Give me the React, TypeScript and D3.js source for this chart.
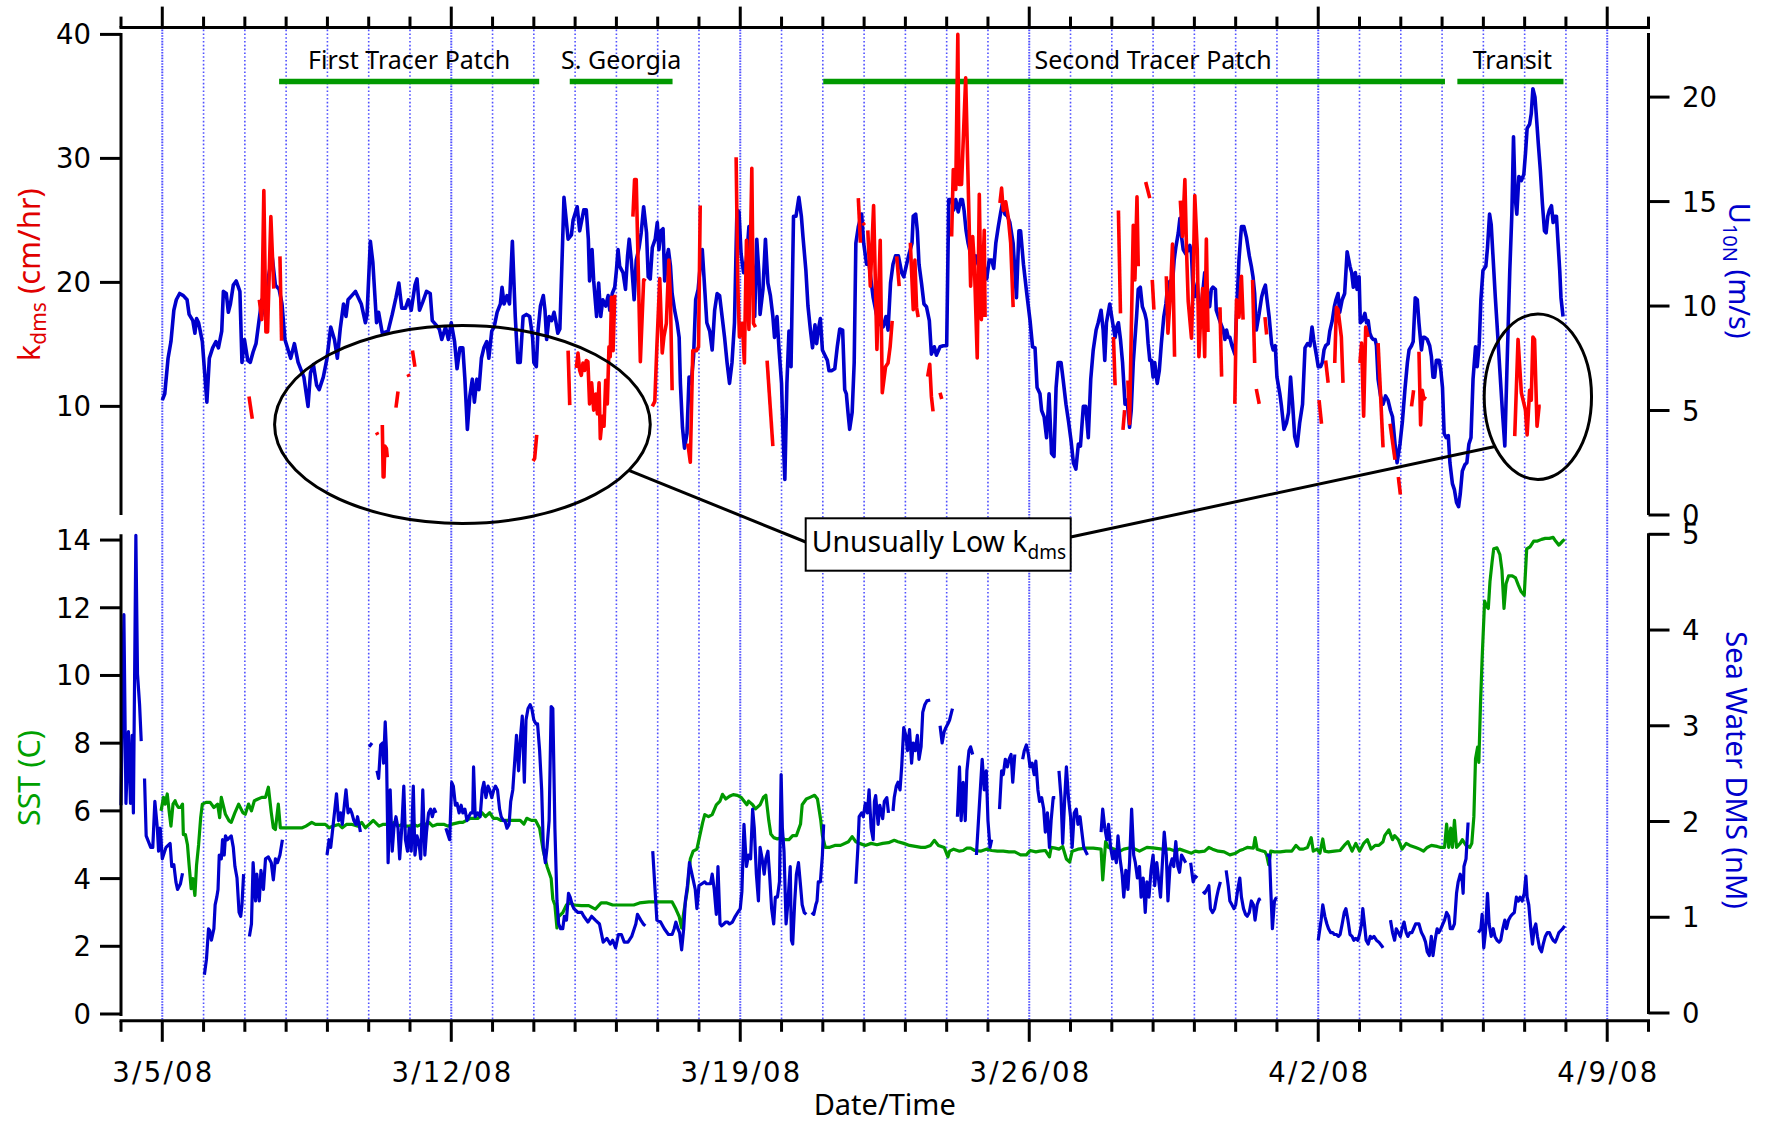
import React from 'react';
import * as d3 from 'd3';

// ---------- time base: decimal days after 2008-03-04 00:00 UTC ----------
const T0 = Date.UTC(2008, 2, 4);
const DAY_MS = 86400000;
const T_START = new Date(T0);
const T_END = new Date(Date.UTC(2008, 3, 10));

// ---------- cruise periods (start / end day) ----------
const periodNames = ['First Tracer Patch', 'S. Georgia', 'Second Tracer Patch', 'Transit'];
const periodStart = [3.83, 10.87, 17.01, 32.37];
const periodEnd = [10.13, 13.36, 32.07, 34.94];

// ---------- axis ticks ----------
const kTicks = [10, 20, 30, 40];
const windTicks = [0, 5, 10, 15, 20];
const sstTicks = [0, 2, 4, 6, 8, 10, 12, 14];
const dmsTicks = [0, 1, 2, 3, 4, 5];
const K_AXIS_MIN = 1.24;
const WIND_AXIS_MAX = 23.0;
const SST_AXIS_MAX = 14.17;
const DMS_AXIS_MAX = 5;

// ---------- U10N wind speed (m/s) ----------
const windSpeed: [number, number][] = [
  [1.00,5.5],[1.06,5.8],[1.14,7.5],[1.21,8.3],[1.28,9.8],[1.34,10.3],[1.42,10.6],[1.51,10.5],[1.60,10.3],[1.65,9.6],[1.74,9.3],[1.79,8.7],[1.83,9.4],[1.88,9.2],[1.97,8.3],[2.08,5.4],[2.14,7.5],[2.22,8.0],[2.30,8.3],[2.36,8.0],[2.44,8.8],[2.48,10.7],[2.55,10.6],[2.60,9.7],[2.65,10.1],[2.72,11.0],[2.79,11.2],[2.88,10.7],[2.93,7.3],[2.99,8.4],[3.07,7.4],[3.13,7.3],[3.20,7.8],[3.27,8.2],[3.33,9.1],[3.41,10.3],[3.50,9.5],[3.58,11.5],[3.66,12.4],[3.74,11.0],[3.83,10.8],[3.90,10.1],[3.97,8.4],[4.11,7.5],[4.20,8.2],[4.29,7.3],[4.43,6.6],[4.53,5.2],[4.59,6.8],[4.66,7.2],[4.74,6.2],[4.80,6.0],[4.90,6.6],[4.99,7.5],[5.08,9.0],[5.17,8.4],[5.24,7.5],[5.31,8.9],[5.39,10.1],[5.45,9.5],[5.50,10.3],[5.59,10.5],[5.68,10.7],[5.82,10.1],[5.92,9.2],[5.96,9.6],[6.04,13.1],[6.10,12.1],[6.19,9.2],[6.24,9.7],[6.33,8.7],[6.47,8.8],[6.57,9.6],[6.66,10.4],[6.73,11.1],[6.80,9.9],[6.89,9.9],[6.96,10.3],[7.03,9.8],[7.12,11.0],[7.17,11.3],[7.23,9.8],[7.31,10.2],[7.40,10.7],[7.49,10.6],[7.54,9.3],[7.63,9.1],[7.71,8.9],[7.77,8.4],[7.86,9.0],[7.93,8.4],[8.00,9.2],[8.08,8.3],[8.14,7.0],[8.21,8.0],[8.28,8.0],[8.33,6.5],[8.39,4.1],[8.45,5.7],[8.51,6.5],[8.56,5.4],[8.62,6.5],[8.67,6.0],[8.73,7.5],[8.79,8.0],[8.86,8.3],[8.91,7.5],[8.98,8.8],[9.04,9.0],[9.11,9.7],[9.19,10.1],[9.23,10.9],[9.28,10.1],[9.35,10.5],[9.41,10.1],[9.48,13.1],[9.55,9.5],[9.61,7.3],[9.67,7.3],[9.74,9.5],[9.82,9.6],[9.90,9.5],[9.97,8.5],[10.00,7.3],[10.06,7.1],[10.10,8.8],[10.16,10.0],[10.23,10.5],[10.27,9.8],[10.31,8.4],[10.37,9.5],[10.43,9.3],[10.49,9.7],[10.53,9.3],[10.58,8.7],[10.63,8.9],[10.68,12.0],[10.73,15.2],[10.83,13.2],[10.91,13.4],[10.95,14.1],[11.05,14.75],[11.11,13.6],[11.21,14.6],[11.27,14.6],[11.32,13.2],[11.35,11.2],[11.41,12.7],[11.45,11.2],[11.52,9.5],[11.57,11.1],[11.62,9.5],[11.67,10.3],[11.74,10.0],[11.80,10.5],[11.84,9.8],[11.90,10.6],[11.96,10.9],[12.00,11.7],[12.04,12.7],[12.08,11.9],[12.16,11.6],[12.22,10.8],[12.27,12.4],[12.31,13.2],[12.36,12.2],[12.43,10.3],[12.48,12.2],[12.55,12.8],[12.60,13.5],[12.66,14.75],[12.73,13.5],[12.77,11.4],[12.82,11.3],[12.87,12.8],[12.94,13.2],[12.99,14.0],[13.03,12.7],[13.08,13.6],[13.13,13.7],[13.17,11.2],[13.21,12.2],[13.26,12.7],[13.31,11.9],[13.35,10.6],[13.41,9.8],[13.47,9.2],[13.52,8.5],[13.55,6.3],[13.60,4.2],[13.65,3.2],[13.71,3.9],[13.76,6.6],[13.81,6.3],[13.87,7.6],[13.92,10.3],[13.98,10.8],[14.03,11.9],[14.08,12.7],[14.14,10.8],[14.19,9.2],[14.26,8.8],[14.32,7.9],[14.38,9.8],[14.44,10.6],[14.50,10.5],[14.56,9.5],[14.62,8.5],[14.68,7.3],[14.74,6.3],[14.80,7.3],[14.86,9.2],[14.92,14.6],[14.97,14.5],[15.02,12.5],[15.08,11.6],[15.15,12.2],[15.21,13.8],[15.27,12.7],[15.31,11.4],[15.35,9.5],[15.40,13.2],[15.45,11.6],[15.48,9.6],[15.55,10.8],[15.61,13.2],[15.67,11.1],[15.73,10.5],[15.79,9.5],[15.83,8.5],[15.89,9.5],[15.94,7.9],[16.00,6.3],[16.03,4.2],[16.08,1.7],[16.13,6.3],[16.18,8.8],[16.23,7.1],[16.29,14.3],[16.35,14.3],[16.42,15.2],[16.48,14.3],[16.52,13.3],[16.59,11.7],[16.64,10.0],[16.70,8.85],[16.75,8.0],[16.81,9.1],[16.85,8.2],[16.89,8.85],[16.94,9.4],[16.99,7.9],[17.05,7.65],[17.11,7.4],[17.15,6.9],[17.21,6.9],[17.29,7.0],[17.35,8.05],[17.41,8.9],[17.48,8.85],[17.53,6.0],[17.57,5.8],[17.61,4.9],[17.65,4.1],[17.71,4.9],[17.76,7.3],[17.80,13.0],[17.86,13.8],[17.94,14.4],[17.99,13.0],[18.06,12.0],[18.12,12.0],[18.22,10.4],[18.34,9.2],[18.46,9.0],[18.53,9.5],[18.58,8.85],[18.64,11.1],[18.70,12.0],[18.76,12.4],[18.83,12.4],[18.91,11.6],[18.96,11.4],[19.03,12.0],[19.09,12.5],[19.16,13.0],[19.19,14.3],[19.25,14.4],[19.29,13.6],[19.33,12.0],[19.39,11.1],[19.45,10.1],[19.51,9.97],[19.58,9.3],[19.63,7.7],[19.70,8.05],[19.75,7.65],[19.84,8.05],[19.92,8.1],[20.00,8.1],[20.05,15.1],[20.12,15.1],[20.17,14.6],[20.22,15.1],[20.28,14.5],[20.34,15.1],[20.38,15.1],[20.42,14.6],[20.47,13.6],[20.52,13.0],[20.58,12.5],[20.64,12.2],[20.71,12.4],[20.76,12.0],[20.84,12.2],[20.90,12.0],[20.97,11.3],[21.03,12.2],[21.09,12.2],[21.14,11.8],[21.19,13.0],[21.25,13.8],[21.31,14.5],[21.35,14.9],[21.41,14.4],[21.47,14.3],[21.53,14.0],[21.61,13.0],[21.69,10.4],[21.75,13.6],[21.79,13.6],[21.86,12.0],[21.94,10.6],[22.02,9.3],[22.08,8.05],[22.14,8.0],[22.19,6.1],[22.26,5.8],[22.30,5.0],[22.36,4.7],[22.42,3.7],[22.48,5.8],[22.54,2.95],[22.60,2.8],[22.65,6.1],[22.70,7.3],[22.77,7.3],[22.82,6.5],[22.89,5.3],[22.95,4.5],[23.01,3.6],[23.07,2.5],[23.13,2.2],[23.19,3.4],[23.24,3.3],[23.31,5.2],[23.37,5.2],[23.43,3.7],[23.49,6.5],[23.55,7.9],[23.62,8.85],[23.67,9.2],[23.74,9.8],[23.79,8.85],[23.83,7.4],[23.87,9.2],[23.95,10.1],[24.02,9.2],[24.08,8.5],[24.12,9.0],[24.16,9.2],[24.21,8.4],[24.26,7.3],[24.32,5.3],[24.37,5.5],[24.43,4.2],[24.47,5.0],[24.52,7.3],[24.56,8.4],[24.60,9.5],[24.64,10.8],[24.69,10.9],[24.74,9.97],[24.80,9.65],[24.84,9.3],[24.88,8.2],[24.92,7.4],[24.96,7.4],[25.00,6.6],[25.04,7.3],[25.10,6.3],[25.15,6.9],[25.20,8.2],[25.26,9.5],[25.31,10.1],[25.36,11.1],[25.42,11.2],[25.47,11.1],[25.51,12.2],[25.55,12.8],[25.61,13.5],[25.65,14.2],[25.69,13.3],[25.73,12.7],[25.79,12.5],[25.85,12.7],[25.89,12.9],[25.93,12.5],[25.97,10.6],[26.01,10.45],[26.07,11.1],[26.11,9.97],[26.15,9.3],[26.20,10.6],[26.25,11.6],[26.29,11.1],[26.33,10.45],[26.37,9.97],[26.41,10.8],[26.45,10.9],[26.51,10.8],[26.53,9.8],[26.58,9.5],[26.63,9.2],[26.70,8.85],[26.74,8.4],[26.78,8.85],[26.82,8.5],[26.86,8.5],[26.91,8.1],[26.98,7.7],[27.04,10.45],[27.08,12.2],[27.14,13.8],[27.20,13.8],[27.26,13.3],[27.33,12.4],[27.38,11.9],[27.42,11.4],[27.46,10.6],[27.50,8.85],[27.57,9.65],[27.63,10.45],[27.68,10.8],[27.72,11.0],[27.76,10.3],[27.81,9.5],[27.87,8.2],[27.91,7.9],[27.96,8.1],[28.00,6.6],[28.07,5.8],[28.11,5.2],[28.17,4.1],[28.23,4.4],[28.28,4.9],[28.33,6.6],[28.38,5.3],[28.43,3.75],[28.49,3.3],[28.55,4.4],[28.62,5.3],[28.68,8.0],[28.74,8.2],[28.80,8.1],[28.85,9.0],[28.89,8.4],[28.96,7.6],[29.00,7.1],[29.06,7.1],[29.10,7.3],[29.14,7.9],[29.18,8.1],[29.24,8.2],[29.28,8.8],[29.34,9.3],[29.39,9.97],[29.43,10.3],[29.48,10.6],[29.52,9.7],[29.58,10.3],[29.64,10.6],[29.70,12.6],[29.77,11.9],[29.81,11.6],[29.85,10.9],[29.90,11.6],[29.94,10.8],[29.99,11.4],[30.02,9.2],[30.07,9.3],[30.13,9.65],[30.17,9.2],[30.21,9.3],[30.25,8.7],[30.29,8.5],[30.33,8.4],[30.38,8.4],[30.41,8.1],[30.45,6.5],[30.51,5.7],[30.57,5.3],[30.63,5.7],[30.69,5.5],[30.75,5.0],[30.80,4.7],[30.86,3.4],[30.91,2.5],[30.98,3.4],[31.04,4.5],[31.10,6.0],[31.16,7.3],[31.20,7.9],[31.26,8.1],[31.30,8.3],[31.35,10.4],[31.40,10.3],[31.44,9.2],[31.50,7.9],[31.54,8.5],[31.58,8.5],[31.64,8.4],[31.70,8.1],[31.74,7.6],[31.78,6.6],[31.82,6.6],[31.86,7.4],[31.93,7.4],[31.97,6.9],[32.01,6.1],[32.05,3.9],[32.10,3.7],[32.15,3.8],[32.19,2.5],[32.25,1.5],[32.30,1.2],[32.35,0.6],[32.40,0.4],[32.44,1.0],[32.49,2.1],[32.55,2.4],[32.60,2.5],[32.65,3.4],[32.70,3.7],[32.75,6.5],[32.81,8.05],[32.85,7.1],[32.90,8.2],[32.94,10.3],[32.99,11.7],[33.06,11.9],[33.10,12.8],[33.15,14.4],[33.19,13.9],[33.23,12.5],[33.29,10.4],[33.34,8.85],[33.40,6.9],[33.46,5.0],[33.52,3.3],[33.57,6.9],[33.64,11.7],[33.69,14.4],[33.73,18.1],[33.77,15.2],[33.81,14.4],[33.86,16.2],[33.92,16.0],[33.98,16.3],[34.02,17.3],[34.06,18.5],[34.12,18.7],[34.16,19.2],[34.20,20.4],[34.25,20.0],[34.28,19.2],[34.33,17.8],[34.38,16.5],[34.43,14.9],[34.48,13.6],[34.52,13.5],[34.56,14.3],[34.60,14.6],[34.65,14.8],[34.69,14.0],[34.73,14.3],[34.77,14.3],[34.81,13.0],[34.85,11.7],[34.88,10.4],[34.93,9.5],
];

// ---------- k_dms transfer velocity (cm/hr), broken record ----------
const kdmsSegments: [number, number][][] = [
  [[3.10,10.8],[3.18,9.0]],
  [[3.35,18.6],[3.41,17.0],[3.46,27.4],[3.51,16.0],[3.55,16.0],[3.63,25.3],[3.70,19.5]],
  [[3.85,22.1],[3.89,15.3]],
  [[6.19,7.9],[6.22,7.7]],
  [[6.33,8.5],[6.35,4.3],[6.37,4.3],[6.39,6.8],[6.43,6.6],[6.45,5.9]],
  [[6.66,9.9],[6.71,11.2]],
  [[6.95,12.6],[6.98,12.4]],
  [[7.06,14.5],[7.12,13.2]],
  [[9.98,5.6],[10.02,5.8],[10.07,7.7]],
  [[10.83,14.5],[10.87,10.1]],
  [[11.03,13.1],[11.07,14.3],[11.11,12.9],[11.15,12.5],[11.19,13.5],[11.23,12.9],[11.27,13.7],[11.31,13.6],[11.35,10.2],[11.40,11.9],[11.45,9.7],[11.50,11.0],[11.54,9.4],[11.58,11.9],[11.61,7.4],[11.66,9.2],[11.70,8.4],[11.74,12.1],[11.78,10.2],[11.82,14.8],[11.85,14.0],[11.88,18.8],[11.92,14.5],[11.96,19.0]],
  [[12.40,25.3],[12.44,28.3],[12.48,28.3],[12.58,13.6],[12.66,20.2],[12.71,20.1]],
  [[12.87,10.0],[12.93,10.4],[12.98,14.8],[13.05,20.3],[13.11,14.3],[13.15,15.6],[13.21,16.7],[13.27,21.8],[13.31,18.6],[13.35,11.3]],
  [[13.73,7.0],[13.79,5.5],[13.85,14.5],[13.94,14.5],[13.99,14.8],[14.03,26.2]],
  [[14.90,30.1],[14.94,19.9],[14.98,15.6],[15.05,16.7],[15.10,13.5],[15.15,23.4],[15.21,16.2],[15.28,29.2],[15.32,16.7],[15.37,16.4]],
  [[15.65,13.7],[15.79,6.8]],
  [[17.86,26.8],[17.91,23.2]],
  [[17.97,24.8],[18.01,24.6]],
  [[18.09,24.2],[18.15,19.7],[18.23,26.2],[18.31,14.6],[18.39,23.4],[18.44,11.1],[18.52,13.2],[18.58,13.5],[18.63,14.8],[18.68,16.9]],
  [[18.79,22.1],[18.85,19.7]],
  [[19.12,23.2],[19.19,17.8],[19.23,21.8],[19.27,18.0],[19.31,17.2]],
  [[19.54,12.4],[19.59,13.4],[19.63,10.8],[19.67,9.6]],
  [[19.84,11.1],[19.88,10.6]],
  [[20.12,23.7],[20.16,29.1],[20.22,27.5],[20.27,40.0],[20.30,27.9],[20.36,27.9],[20.46,36.5],[20.58,19.7],[20.63,23.7],[20.67,21.5],[20.74,13.9],[20.79,27.1],[20.84,17.0],[20.91,24.2],[20.93,17.2]],
  [[21.29,26.4],[21.33,27.6],[21.37,25.8],[21.43,26.5],[21.49,25.3],[21.55,23.2],[21.61,18.0]],
  [[24.04,15.6],[24.08,11.7]],
  [[24.16,25.8],[24.21,17.5]],
  [[24.27,8.1],[24.31,9.7]],
  [[24.39,12.1],[24.43,8.6],[24.52,24.6],[24.56,20.2],[24.61,26.9],[24.64,21.3]],
  [[24.82,28.1],[24.92,26.8]],
  [[24.98,20.2],[25.02,17.8]],
  [[25.32,20.5],[25.36,15.9],[25.42,19.1],[25.47,23.1],[25.52,14.0]],
  [[25.66,26.6],[25.71,23.7],[25.77,28.3],[25.81,22.6],[25.85,18.5],[25.93,15.5],[25.97,20.0],[26.01,27.0],[26.07,22.6],[26.11,14.0],[26.15,17.0],[26.20,19.5],[26.25,14.0],[26.29,23.5],[26.33,16.0]],
  [[26.62,18.0],[26.66,12.4]],
  [[26.98,10.2],[27.02,18.6],[27.08,17.2],[27.14,20.5],[27.18,17.0]],
  [[27.41,20.2],[27.46,13.5]],
  [[27.50,11.4],[27.57,10.2]],
  [[27.71,17.2],[27.75,15.8]],
  [[29.02,10.5],[29.08,8.6]],
  [[29.18,13.7],[29.24,11.9]],
  [[29.40,13.5],[29.44,18.0],[29.48,17.8],[29.52,16.7],[29.56,15.6],[29.60,11.9]],
  [[30.01,13.5],[30.05,15.1],[30.10,9.2],[30.15,16.4],[30.21,15.6]],
  [[30.45,15.1],[30.57,6.7]],
  [[30.74,8.6],[30.86,5.7]],
  [[30.94,4.3],[30.99,2.9]],
  [[31.26,10.0],[31.31,11.3]],
  [[31.44,14.4],[31.48,8.5],[31.52,11.3],[31.56,10.6],[31.60,10.8]],
  [[33.76,7.6],[33.84,15.4],[33.92,11.1],[34.02,9.7],[34.06,7.7],[34.12,11.3],[34.16,10.5],[34.20,15.6],[34.24,15.4],[34.30,8.4],[34.35,10.0],[34.39,10.0]],
];

// ---------- sea surface temperature (C) ----------
const seaSurfaceTemp: [number, number][] = [
  [0.97,6.0],[1.03,6.4],[1.07,6.2],[1.12,6.5],[1.17,5.95],[1.21,5.55],[1.26,6.2],[1.31,6.3],[1.34,6.2],[1.39,6.1],[1.44,6.1],[1.49,6.2],[1.51,5.3],[1.56,5.3],[1.61,5.0],[1.65,4.4],[1.70,3.7],[1.74,4.0],[1.79,3.5],[1.83,4.4],[1.88,5.0],[1.93,5.8],[1.97,6.2],[2.06,6.25],[2.16,6.25],[2.25,6.1],[2.34,6.2],[2.39,5.8],[2.43,6.4],[2.53,5.9],[2.62,5.7],[2.67,5.66],[2.76,5.95],[2.85,6.2],[2.95,5.95],[3.01,5.9],[3.09,6.2],[3.16,6.0],[3.23,6.3],[3.32,6.35],[3.41,6.4],[3.50,6.4],[3.57,6.7],[3.64,5.95],[3.69,5.5],[3.74,5.45],[3.81,6.2],[3.86,5.5],[3.92,5.5],[4.11,5.5],[4.39,5.5],[4.48,5.55],[4.62,5.66],[4.71,5.6],[4.85,5.6],[4.95,5.6],[5.04,5.5],[5.13,5.55],[5.27,5.6],[5.36,5.5],[5.46,5.6],[5.60,5.6],[5.74,5.55],[5.83,5.66],[5.92,5.5],[6.01,5.6],[6.11,5.72],[6.25,5.55],[6.34,5.6],[6.43,5.6],[6.53,5.6],[6.62,5.66],[6.71,5.55],[6.81,5.6],[6.90,5.55],[7.00,5.55],[7.09,5.6],[7.18,5.55],[7.27,5.6],[7.37,5.6],[7.46,5.66],[7.55,5.55],[7.65,5.6],[7.74,5.6],[7.83,5.6],[7.92,5.55],[8.00,5.6],[8.20,5.66],[8.28,5.66],[8.37,5.72],[8.46,5.78],[8.56,5.78],[8.65,5.78],[8.74,5.95],[8.83,5.83],[8.93,5.95],[9.02,5.78],[9.11,5.78],[9.20,5.72],[9.30,5.72],[9.48,5.72],[9.67,5.72],[9.76,5.61],[9.83,5.78],[9.94,5.72],[10.04,5.72],[10.14,5.49],[10.23,4.81],[10.32,4.36],[10.42,4.0],[10.46,3.39],[10.51,3.22],[10.56,2.54],[10.60,2.88],[10.70,2.99],[10.79,3.22],[10.88,3.28],[10.97,3.22],[11.15,3.2],[11.33,3.2],[11.49,3.1],[11.63,3.28],[11.77,3.28],[11.91,3.22],[12.05,3.22],[12.24,3.22],[12.42,3.22],[12.56,3.28],[12.79,3.31],[12.98,3.31],[13.16,3.31],[13.35,3.31],[13.44,3.1],[13.52,2.88],[13.58,2.54],[13.63,2.99],[13.72,3.67],[13.79,4.58],[13.86,4.81],[13.95,4.87],[14.02,5.27],[14.09,5.66],[14.14,5.89],[14.23,5.83],[14.32,5.89],[14.42,6.18],[14.51,6.29],[14.57,6.49],[14.65,6.35],[14.74,6.43],[14.83,6.48],[14.93,6.46],[15.02,6.4],[15.09,6.29],[15.16,6.18],[15.20,6.29],[15.30,6.18],[15.37,6.06],[15.48,6.18],[15.56,6.4],[15.62,6.46],[15.69,5.72],[15.74,5.32],[15.81,5.21],[15.90,5.17],[15.99,5.21],[16.09,5.15],[16.18,5.15],[16.27,5.27],[16.36,5.27],[16.46,5.61],[16.50,6.18],[16.60,6.35],[16.69,6.4],[16.80,6.46],[16.87,6.35],[16.95,5.72],[16.99,5.27],[17.06,4.92],[17.15,4.92],[17.29,4.98],[17.43,4.98],[17.62,5.09],[17.71,5.24],[17.80,5.09],[17.89,5.04],[18.03,4.98],[18.17,5.04],[18.31,5.0],[18.45,5.04],[18.59,5.06],[18.73,5.13],[18.82,5.09],[18.96,5.04],[19.10,4.98],[19.24,4.95],[19.38,4.92],[19.47,4.92],[19.61,4.98],[19.70,5.13],[19.80,4.98],[19.94,4.92],[20.03,4.64],[20.07,4.81],[20.17,4.87],[20.31,4.81],[20.40,4.83],[20.49,4.9],[20.58,4.9],[20.68,4.83],[20.82,4.81],[20.96,4.87],[21.09,4.83],[21.23,4.81],[21.37,4.81],[21.51,4.79],[21.65,4.79],[21.79,4.7],[21.93,4.7],[22.02,4.83],[22.16,4.79],[22.25,4.81],[22.39,4.83],[22.49,4.64],[22.53,4.92],[22.63,4.9],[22.72,4.87],[22.81,4.95],[22.90,4.58],[22.98,4.49],[23.04,4.81],[23.18,4.87],[23.37,4.9],[23.55,4.9],[23.74,4.87],[23.78,3.96],[23.85,5.09],[23.92,4.92],[24.06,4.87],[24.20,4.81],[24.29,4.87],[24.48,4.92],[24.67,4.81],[24.85,4.92],[25.04,4.9],[25.22,4.87],[25.41,4.87],[25.55,4.81],[25.64,4.87],[25.79,4.81],[25.93,4.75],[26.02,4.81],[26.11,4.79],[26.25,4.81],[26.35,4.92],[26.44,4.87],[26.58,4.81],[26.72,4.79],[26.86,4.7],[27.00,4.75],[27.10,4.83],[27.19,4.87],[27.28,4.92],[27.43,4.9],[27.47,5.21],[27.52,4.87],[27.61,4.83],[27.71,4.79],[27.75,4.7],[27.80,4.41],[27.85,4.81],[27.94,4.79],[28.08,4.79],[28.22,4.81],[28.36,4.81],[28.46,4.98],[28.55,4.87],[28.64,4.87],[28.74,4.92],[28.83,5.21],[28.88,4.81],[28.97,4.87],[29.04,4.75],[29.11,5.17],[29.16,4.81],[29.25,4.79],[29.39,4.81],[29.53,4.83],[29.63,4.98],[29.72,5.09],[29.82,4.81],[29.91,5.04],[30.00,4.81],[30.10,5.04],[30.19,5.15],[30.28,4.87],[30.38,4.98],[30.47,4.98],[30.57,5.09],[30.61,5.27],[30.71,5.44],[30.80,5.15],[30.85,5.27],[30.94,5.15],[31.03,4.87],[31.13,5.04],[31.22,4.98],[31.36,4.92],[31.46,4.87],[31.55,4.81],[31.64,4.92],[31.74,4.98],[31.88,4.95],[31.97,4.92],[32.06,4.92],[32.11,5.61],[32.16,4.92],[32.21,5.49],[32.25,4.92],[32.30,5.72],[32.35,4.92],[32.44,5.04],[32.49,5.15],[32.58,4.98],[32.67,4.92],[32.72,5.04],[32.77,5.83],[32.81,7.54],[32.86,7.88],[32.89,7.43],[32.93,9.13],[32.97,10.5],[33.03,12.2],[33.08,12.03],[33.12,11.98],[33.16,12.77],[33.21,13.34],[33.25,13.74],[33.33,13.77],[33.40,13.57],[33.45,13.11],[33.50,11.98],[33.55,12.71],[33.61,12.94],[33.70,12.94],[33.78,12.88],[33.85,12.66],[33.91,12.49],[33.99,12.37],[34.05,13.74],[34.13,13.8],[34.22,13.97],[34.31,13.97],[34.41,14.02],[34.50,14.05],[34.60,14.05],[34.69,14.08],[34.75,13.97],[34.83,13.85],[34.92,13.97],[34.97,14.02],
];

// ---------- sea water DMS (nM), broken record ----------
const dmsSegments: [number, number][][] = [
  [[0.00,2.17],[0.07,4.16],[0.12,2.19],[0.18,2.94],[0.23,2.19],[0.27,2.9],[0.30,2.09],[0.36,4.99],[0.40,3.54],[0.45,3.22],[0.49,2.84]],
  [[0.57,2.45],[0.61,1.85],[0.72,1.73],[0.77,1.73],[0.82,2.21],[0.88,1.93],[0.91,1.69],[0.95,1.93],[1.00,1.61],[1.09,1.73],[1.19,1.77],[1.23,1.53],[1.28,1.55],[1.33,1.37],[1.37,1.29],[1.44,1.35],[1.49,1.46]],
  [[2.02,0.40],[2.07,0.56],[2.12,0.88],[2.15,0.86],[2.19,0.76],[2.25,0.88],[2.28,1.13],[2.32,1.21],[2.35,1.29],[2.38,1.65],[2.43,1.61],[2.46,1.81],[2.50,1.65],[2.53,1.85],[2.58,1.81],[2.67,1.85],[2.72,1.73],[2.76,1.53],[2.81,1.41],[2.86,1.05],[2.90,1.01],[2.93,1.13],[2.97,1.45]],
  [[3.11,0.8],[3.16,0.93],[3.20,1.57],[3.26,1.17],[3.29,1.45],[3.35,1.17],[3.39,1.49],[3.45,1.29],[3.50,1.61],[3.57,1.63],[3.64,1.57],[3.69,1.39],[3.74,1.61],[3.79,1.57],[3.85,1.65],[3.91,1.81]],
  [[4.99,1.65],[5.04,1.81],[5.08,1.73],[5.13,1.93],[5.18,2.13],[5.22,2.29],[5.27,2.01],[5.32,2.09],[5.36,1.97],[5.41,2.17],[5.45,2.33],[5.50,2.09],[5.55,2.13],[5.59,2.09],[5.64,2.01],[5.69,1.97],[5.73,2.05],[5.80,1.89]],
  [[6.01,2.78],[6.08,2.82]],
  [[6.20,2.53],[6.24,2.45],[6.29,2.8],[6.34,2.82],[6.36,2.61],[6.40,3.04],[6.43,2.74],[6.47,1.57],[6.52,2.33],[6.57,1.69],[6.61,1.93],[6.66,2.05],[6.71,1.93],[6.75,1.61],[6.80,1.93],[6.85,2.37],[6.89,1.81],[6.94,1.69],[6.98,1.93],[7.03,1.69],[7.08,2.37],[7.12,1.65],[7.17,1.85],[7.22,1.77],[7.26,1.61],[7.31,2.33],[7.36,1.65],[7.40,1.89],[7.45,2.09],[7.50,2.13],[7.54,2.05],[7.59,2.13],[7.63,2.09]],
  [[7.87,1.93],[7.96,1.81],[8.01,2.41],[8.05,2.37],[8.10,2.17],[8.14,2.19],[8.19,2.09],[8.24,2.17],[8.28,2.09],[8.33,2.13],[8.38,2.01],[8.47,2.09],[8.52,2.09],[8.54,2.57],[8.58,2.05],[8.64,2.09],[8.70,2.05],[8.75,2.33],[8.79,2.41],[8.84,2.25],[8.89,2.37],[8.93,2.33],[8.98,2.25],[9.03,2.33],[9.07,2.37],[9.12,2.33],[9.17,2.13],[9.21,2.05],[9.26,2.01],[9.30,2.01],[9.35,1.93],[9.40,1.97],[9.44,2.21],[9.49,2.33],[9.54,2.65],[9.58,2.9],[9.63,2.53],[9.68,2.9],[9.72,3.1],[9.77,2.41],[9.81,3.06],[9.86,3.18],[9.91,3.22],[9.95,3.18],[10.00,3.06],[10.05,3.02],[10.09,3.02],[10.14,2.74],[10.19,2.33],[10.23,1.73],[10.28,1.57],[10.32,1.73],[10.37,2.01],[10.42,3.2],[10.46,3.18],[10.51,1.93],[10.56,1.17],[10.60,0.93],[10.65,0.88],[10.70,0.88],[10.74,1.01],[10.79,0.97],[10.84,1.25],[10.88,1.21],[10.93,1.13],[10.97,1.09],[11.07,1.05],[11.16,1.05],[11.21,1.01],[11.31,0.95],[11.40,1.01],[11.49,0.97],[11.59,0.93],[11.68,0.74],[11.77,0.78],[11.85,0.72],[11.91,0.76],[11.98,0.68],[12.05,0.82],[12.12,0.82],[12.19,0.74],[12.28,0.74],[12.37,0.8],[12.47,0.93],[12.51,1.03],[12.59,0.97],[12.65,0.93],[12.70,0.91]],
  [[12.88,1.69],[12.93,1.33],[12.98,0.97],[13.07,0.95],[13.16,0.88],[13.26,0.82],[13.35,0.82],[13.40,0.88],[13.44,0.95],[13.49,0.88],[13.53,0.84],[13.58,0.66],[13.63,0.88],[13.67,1.17],[13.72,1.33],[13.77,1.57],[13.81,1.49],[13.86,1.39],[13.91,1.29],[13.95,1.09],[14.00,1.33],[14.07,1.35],[14.14,1.37],[14.18,1.35],[14.28,1.35],[14.32,1.45],[14.37,1.29],[14.42,1.03],[14.46,1.53],[14.51,0.93],[14.55,0.91],[14.60,0.93],[14.65,0.95],[14.69,0.95],[14.74,0.93],[14.81,0.95],[14.88,1.01],[14.94,1.05],[15.00,1.09],[15.04,1.27],[15.09,1.97],[15.15,1.53],[15.20,1.65],[15.25,1.61],[15.30,2.13],[15.34,1.93],[15.39,1.45],[15.44,1.17],[15.48,1.73],[15.53,1.61],[15.58,1.45],[15.62,1.61],[15.67,1.69],[15.71,1.45],[15.76,1.09],[15.81,0.93],[15.85,1.21],[15.90,1.21],[15.95,1.37],[15.99,2.49],[16.02,1.93],[16.06,1.69],[16.11,0.93],[16.15,1.13],[16.21,1.53],[16.24,0.76],[16.27,0.72],[16.32,1.17],[16.36,1.45],[16.41,1.57],[16.46,1.33],[16.50,1.13],[16.55,1.05],[16.60,1.03]],
  [[16.73,1.05],[16.78,1.03],[16.83,1.13],[16.86,1.17],[16.89,1.37],[16.94,1.37],[16.99,1.65],[17.02,1.97]],
  [[17.80,1.35],[17.85,1.73],[17.88,2.05],[17.94,2.09],[17.98,2.05],[18.03,2.19],[18.08,2.09],[18.12,2.33],[18.17,1.93],[18.22,1.81],[18.25,2.21],[18.28,2.27],[18.34,1.97],[18.38,2.17],[18.45,2.03],[18.49,2.21],[18.55,2.25],[18.59,2.09]],
  [[18.70,2.11],[18.73,2.25],[18.78,2.37],[18.82,2.41],[18.87,2.33],[18.91,2.57],[18.96,2.98],[19.01,2.9],[19.05,2.74],[19.10,2.96],[19.15,2.61],[19.19,2.82],[19.24,2.74],[19.29,2.9],[19.33,2.65],[19.38,2.78],[19.42,3.14],[19.47,3.22],[19.52,3.26],[19.60,3.27]],
  [[19.84,3.0],[19.89,2.82],[19.94,2.94],[19.98,2.98],[20.03,3.02],[20.07,3.06],[20.14,3.18]],
  [[20.26,2.05],[20.31,2.57],[20.35,2.01],[20.40,2.41],[20.45,2.01],[20.49,2.53],[20.54,2.74],[20.58,2.78],[20.63,2.7]],
  [[20.72,1.65],[20.77,2.01],[20.82,2.37],[20.86,2.65],[20.91,2.33],[20.96,2.53],[21.00,2.01],[21.05,1.73],[21.09,1.81]],
  [[21.28,2.13],[21.33,2.53],[21.37,2.49],[21.42,2.65],[21.47,2.57],[21.51,2.65],[21.56,2.7],[21.60,2.41],[21.65,2.7]],
  [[21.84,2.65],[21.88,2.74],[21.93,2.8],[21.98,2.7],[22.02,2.57],[22.07,2.61],[22.12,2.49],[22.16,2.63],[22.21,2.33],[22.25,2.21],[22.30,2.25],[22.35,2.13],[22.39,1.89],[22.44,2.09],[22.49,1.73],[22.53,2.01],[22.58,2.25],[22.63,2.25]],
  [[22.72,2.53],[22.77,2.25],[22.81,1.77],[22.86,2.25],[22.90,2.57],[22.95,2.25],[23.00,2.05],[23.04,1.73],[23.09,2.09],[23.14,2.13],[23.18,1.97],[23.23,2.05],[23.32,1.73],[23.41,1.65]],
  [[23.74,1.89],[23.78,2.13],[23.83,1.93],[23.88,1.81],[23.92,1.97],[23.97,1.73],[24.02,1.61],[24.06,1.69],[24.11,1.57],[24.15,1.85],[24.20,1.61],[24.25,1.45],[24.29,1.21],[24.34,1.49],[24.39,1.29],[24.43,1.57],[24.48,2.13],[24.53,1.65],[24.57,1.57],[24.62,1.41],[24.67,1.53],[24.71,1.21],[24.76,1.41],[24.81,1.05],[24.85,1.37],[24.90,1.21],[24.95,1.49],[25.00,1.65],[25.04,1.33],[25.09,1.57],[25.13,1.41],[25.18,1.21],[25.22,1.53],[25.27,1.89],[25.32,1.65],[25.36,1.17],[25.41,1.53],[25.46,1.61],[25.50,1.53],[25.55,1.79],[25.60,1.53],[25.64,1.47],[25.69,1.65],[25.74,1.61],[25.79,1.57]],
  [[25.91,1.57],[25.97,1.37],[26.02,1.43],[26.07,1.41]],
  [[26.21,1.27],[26.25,1.25],[26.30,1.29],[26.35,1.33],[26.39,1.09],[26.44,1.05],[26.49,1.09],[26.54,1.21],[26.58,1.29],[26.63,1.37]],
  [[26.77,1.49],[26.82,1.33],[26.86,1.17],[26.91,1.13],[26.96,1.09],[27.00,1.13],[27.05,1.29],[27.10,1.41],[27.14,1.21],[27.19,1.09],[27.24,1.03],[27.28,1.01],[27.33,1.05],[27.38,1.17],[27.43,1.13],[27.47,0.97],[27.52,1.13],[27.57,1.19],[27.59,1.17]],
  [[27.75,1.65],[27.82,1.65],[27.85,1.29],[27.89,0.88],[27.94,1.17],[27.99,1.21]],
  [[29.00,0.76],[29.04,0.88],[29.07,0.97],[29.11,1.13],[29.16,1.01],[29.21,0.93],[29.25,0.88],[29.30,0.84],[29.35,0.84],[29.39,0.82],[29.44,0.82],[29.49,0.8],[29.53,0.82],[29.58,0.93],[29.63,1.05],[29.67,1.09],[29.72,0.97],[29.77,0.82],[29.82,0.8],[29.86,0.76],[29.91,0.78],[29.96,0.76],[30.00,0.82],[30.05,0.93],[30.08,1.09],[30.12,0.93],[30.16,0.76],[30.21,0.72],[30.26,0.8],[30.30,0.78],[30.35,0.8],[30.41,0.76],[30.47,0.74],[30.54,0.7],[30.57,0.68]],
  [[30.75,0.97],[30.80,0.84],[30.85,0.76],[30.89,0.88],[30.94,0.84],[30.99,0.8],[31.03,0.88],[31.08,0.95],[31.13,0.84],[31.17,0.8],[31.22,0.84],[31.27,0.84],[31.31,0.88],[31.36,0.93],[31.44,0.93],[31.50,0.84],[31.55,0.8],[31.60,0.74],[31.64,0.64],[31.69,0.6],[31.74,0.8],[31.78,0.6],[31.83,0.76],[31.88,0.88],[31.92,0.84],[31.97,0.88],[32.02,0.93],[32.06,0.97],[32.11,1.05],[32.16,1.01],[32.20,0.88],[32.25,0.88],[32.30,0.93],[32.35,1.25],[32.39,1.37],[32.44,1.45],[32.49,1.37],[32.51,1.25],[32.53,1.53],[32.58,1.61],[32.63,1.99]],
  [[32.88,0.84],[32.94,0.88],[32.97,1.03],[33.01,0.68],[33.05,0.84],[33.10,1.25],[33.14,0.93],[33.19,0.8],[33.24,0.88],[33.28,0.8],[33.33,0.76],[33.38,0.74],[33.42,0.76],[33.47,0.88],[33.52,0.97],[33.56,0.88],[33.61,0.97],[33.66,1.01],[33.70,1.03],[33.75,1.05],[33.80,1.21],[33.85,1.17],[33.89,1.21],[33.94,1.17],[33.99,1.25],[34.03,1.43],[34.06,1.21],[34.10,1.13],[34.15,0.88],[34.19,0.72],[34.23,0.88],[34.27,0.93],[34.31,0.8],[34.36,0.68],[34.41,0.64],[34.45,0.72],[34.50,0.8],[34.55,0.84],[34.60,0.84],[34.64,0.8],[34.69,0.76],[34.74,0.74],[34.78,0.78],[34.83,0.84],[34.92,0.88],[34.97,0.91]],
];

// ---------- colours ----------
const RED = '#ff0000';
const BLUE = '#0000cc';
const GREEN = '#009900';
const GRID = '#5050ff';
const NUM_FONT = "'DejaVu Sans', sans-serif";
const WORD_FONT = "'Noto Sans', 'DejaVu Sans', sans-serif";

// ---------- layout ----------
const W = 1767;
const H = 1124;
const X_LEFT = 121;
const X_RIGHT = 1648.5;
const TOP_Y0 = 34.4;
const TOP_Y1 = 515;
const BOT_Y0 = 534.3;
const BOT_Y1 = 1014;
const TOP_AXIS_Y = 27.6;
const BOTTOM_AXIS_Y = 1020.8;

const toDate = (d: number) => new Date(T0 + d * DAY_MS);

export default function App() {
  const x = d3.scaleUtc().domain([T_START, T_END]).range([X_LEFT, X_RIGHT]);
  const xd = (d: number) => x(toDate(d));
  const yK = d3.scaleLinear().domain([K_AXIS_MIN, 40]).range([TOP_Y1, TOP_Y0]);
  const yU = d3.scaleLinear().domain([0, WIND_AXIS_MAX]).range([TOP_Y1, TOP_Y0]);
  const yT = d3.scaleLinear().domain([0, SST_AXIS_MAX]).range([BOT_Y1, BOT_Y0]);
  const yD = d3.scaleLinear().domain([0, DMS_AXIS_MAX]).range([BOT_Y1 - 1, BOT_Y0]);

  const lineK = d3.line<[number, number]>().x(d => xd(d[0])).y(d => yK(d[1]));
  const lineU = d3.line<[number, number]>().x(d => xd(d[0])).y(d => yU(d[1]));
  const lineT = d3.line<[number, number]>().x(d => xd(d[0])).y(d => yT(d[1]));
  const lineD = d3.line<[number, number]>().x(d => xd(d[0])).y(d => yD(d[1]));

  const days = d3.utcDay.range(T_START, new Date(+T_END + 1));
  const weeks = d3.utcWednesday.range(T_START, T_END);
  const weekSet = new Set(weeks.map(w => +w));
  const fmt = d3.utcFormat('%-m/%-d/%y');

  // annotation ellipses in data space (day, k_dms)
  const e1 = { cx: xd(8.27), cy: yK(8.54), rx: xd(8.27 + 4.55) - xd(8.27), ry: yK(8.54) - yK(8.54 + 7.98) };
  const e2 = { cx: xd(34.32), cy: yK(10.78), rx: xd(34.32 + 1.3) - xd(34.32), ry: yK(10.78) - yK(10.78 + 6.67) };
  const onEllipse = (e: typeof e1, deg: number) => {
    const a = (deg * Math.PI) / 180;
    return [e.cx + e.rx * Math.cos(a), e.cy + e.ry * Math.sin(a)];
  };
  const p1 = onEllipse(e1, 27.6);
  const p2 = onEllipse(e2, 143);
  const box = { x0: 805.7, y0: 518.3, x1: 1070.7, y1: 570.7 };

  const labelShift = [0, 0, 19, 2];

  return (
    <div style={{ position: 'absolute', left: 0, top: 0, width: W, height: H, background: '#fff' }}>
      <svg width={W} height={H} viewBox={`0 0 ${W} ${H}`} style={{ display: 'block' }}>
        <rect x={0} y={0} width={W} height={H} fill="#fff" />

        {/* daily dotted grid */}
        {days.slice(1, -1).map((d, i) => {
          const major = weekSet.has(+d);
          return (
            <line key={`g${i}`} x1={x(d)} x2={x(d)} y1={TOP_AXIS_Y + 2} y2={BOTTOM_AXIS_Y - 1}
              stroke={GRID} strokeWidth={major ? 2 : 1.6}
              strokeDasharray={major ? '1.6,1.2' : '1.6,2.2'} />
          );
        })}

        {/* cruise periods */}
        {periodNames.map((name, i) => {
          const xa = xd(periodStart[i]);
          const xb = xd(periodEnd[i]);
          return (
            <g key={name}>
              <line x1={xa} x2={xb} y1={81.5} y2={81.5} stroke={GREEN} strokeWidth={5.5} />
              <text x={(xa + xb) / 2 + labelShift[i]} y={68.5} textAnchor="middle"
                fontFamily={WORD_FONT} fontSize={25} fill="#000">{name}</text>
            </g>
          );
        })}

        {/* top panel series */}
        <path d={lineU(windSpeed) || ''} fill="none" stroke={BLUE} strokeWidth={3.6} strokeLinejoin="round" />
        {kdmsSegments.map((s, i) => (
          <path key={`k${i}`} d={lineK(s) || ''} fill="none" stroke={RED} strokeWidth={3.6} strokeLinejoin="round" />
        ))}

        {/* bottom panel series */}
        <path d={lineT(seaSurfaceTemp) || ''} fill="none" stroke={GREEN} strokeWidth={3.2} strokeLinejoin="round" />
        {dmsSegments.map((s, i) => (
          <path key={`d${i}`} d={lineD(s) || ''} fill="none" stroke={BLUE} strokeWidth={3.2} strokeLinejoin="round" />
        ))}

        {/* annotation */}
        <ellipse cx={e1.cx} cy={e1.cy} rx={e1.rx} ry={e1.ry} fill="none" stroke="#000" strokeWidth={3} />
        <ellipse cx={e2.cx} cy={e2.cy} rx={e2.rx} ry={e2.ry} fill="none" stroke="#000" strokeWidth={3} />
        <line x1={p1[0]} y1={p1[1]} x2={box.x0} y2={542} stroke="#000" strokeWidth={3} />
        <line x1={box.x1} y1={537} x2={p2[0]} y2={p2[1]} stroke="#000" strokeWidth={3} />
        <rect x={box.x0} y={box.y0} width={box.x1 - box.x0} height={box.y1 - box.y0} fill="#fff" stroke="#000" strokeWidth={2} />
        <text x={811.7} y={552} fontFamily={WORD_FONT} fontSize={28.4} fill="#000">
          Unusually Low k<tspan fontSize={19} dy={6.5}>dms</tspan>
        </text>

        {/* x axes */}
        <line x1={X_LEFT - 1.5} x2={X_RIGHT + 1.5} y1={TOP_AXIS_Y} y2={TOP_AXIS_Y} stroke="#000" strokeWidth={3} />
        <line x1={X_LEFT - 1.5} x2={X_RIGHT + 1.5} y1={BOTTOM_AXIS_Y} y2={BOTTOM_AXIS_Y} stroke="#000" strokeWidth={3} />
        {days.map((d, i) => {
          const major = weekSet.has(+d);
          const len = major ? 21 : 11;
          return (
            <g key={`t${i}`}>
              <line x1={x(d)} x2={x(d)} y1={TOP_AXIS_Y} y2={TOP_AXIS_Y - len} stroke="#000" strokeWidth={3} />
              <line x1={x(d)} x2={x(d)} y1={BOTTOM_AXIS_Y} y2={BOTTOM_AXIS_Y + len} stroke="#000" strokeWidth={3} />
            </g>
          );
        })}
        {weeks.map((d, i) => (
          <text key={`xl${i}`} x={x(d) + 1.2} y={1082} textAnchor="middle" fontFamily={NUM_FONT}
            fontSize={27.5} letterSpacing={2.3} fill="#000">{fmt(d)}</text>
        ))}
        <text x={(X_LEFT + X_RIGHT) / 2} y={1115} textAnchor="middle" fontFamily={WORD_FONT} fontSize={29} fill="#000">Date/Time</text>

        {/* y axes: top panel */}
        <line x1={X_LEFT} x2={X_LEFT} y1={TOP_Y0 - 1.5} y2={TOP_Y1} stroke="#000" strokeWidth={3} />
        <line x1={X_RIGHT} x2={X_RIGHT} y1={TOP_Y0 - 1.5} y2={TOP_Y1} stroke="#000" strokeWidth={3} />
        {kTicks.map(v => (
          <g key={`kt${v}`}>
            <line x1={X_LEFT} x2={X_LEFT - 21} y1={yK(v)} y2={yK(v)} stroke="#000" strokeWidth={3} />
            <text x={91} y={yK(v) + 10} textAnchor="end" fontFamily={NUM_FONT} fontSize={27.5} fill="#000">{v}</text>
          </g>
        ))}
        {windTicks.map(v => (
          <g key={`ut${v}`}>
            <line x1={X_RIGHT} x2={X_RIGHT + 21} y1={yU(v)} y2={yU(v)} stroke="#000" strokeWidth={3} />
            <text x={1682} y={yU(v) + 10} textAnchor="start" fontFamily={NUM_FONT} fontSize={27.5} fill="#000">{v}</text>
          </g>
        ))}

        {/* y axes: bottom panel */}
        <line x1={X_LEFT} x2={X_LEFT} y1={BOT_Y0} y2={BOT_Y1 + 2} stroke="#000" strokeWidth={3} />
        <line x1={X_RIGHT} x2={X_RIGHT} y1={BOT_Y0 - 1} y2={BOT_Y1} stroke="#000" strokeWidth={3} />
        {sstTicks.map(v => (
          <g key={`st${v}`}>
            <line x1={X_LEFT} x2={X_LEFT - 21} y1={yT(v)} y2={yT(v)} stroke="#000" strokeWidth={3} />
            <text x={91} y={yT(v) + 10} textAnchor="end" fontFamily={NUM_FONT} fontSize={27.5} fill="#000">{v}</text>
          </g>
        ))}
        {dmsTicks.map(v => (
          <g key={`dt${v}`}>
            <line x1={X_RIGHT} x2={X_RIGHT + 21} y1={yD(v)} y2={yD(v)} stroke="#000" strokeWidth={3} />
            <text x={1682} y={yD(v) + 10} textAnchor="start" fontFamily={NUM_FONT} fontSize={27.5} fill="#000">{v}</text>
          </g>
        ))}

        {/* axis titles */}
        <text transform={`translate(40,${(TOP_Y0 + TOP_Y1) / 2}) rotate(-90)`} textAnchor="middle"
          fontFamily={WORD_FONT} fontSize={31} fill="#e00000">
          k<tspan fontSize={21} dy={6}>dms</tspan><tspan dy={-6}> (cm/hr)</tspan>
        </text>
        <text transform={`translate(1729,${(TOP_Y0 + TOP_Y1) / 2 - 4}) rotate(90)`} textAnchor="middle"
          fontFamily={WORD_FONT} fontSize={29} fill={BLUE}>
          U<tspan fontSize={20} dy={6}>10N</tspan><tspan dy={-6}> (m/s)</tspan>
        </text>
        <text transform={`translate(40,${(BOT_Y0 + BOT_Y1) / 2 + 4}) rotate(-90)`} textAnchor="middle"
          fontFamily={WORD_FONT} fontSize={30.5} fill="#00a000">SST (C)</text>
        <text transform={`translate(1726,${(BOT_Y0 + BOT_Y1) / 2 - 4}) rotate(90)`} textAnchor="middle"
          fontFamily={WORD_FONT} fontSize={29} fill={BLUE}>Sea Water DMS (nM)</text>
      </svg>
    </div>
  );
}
